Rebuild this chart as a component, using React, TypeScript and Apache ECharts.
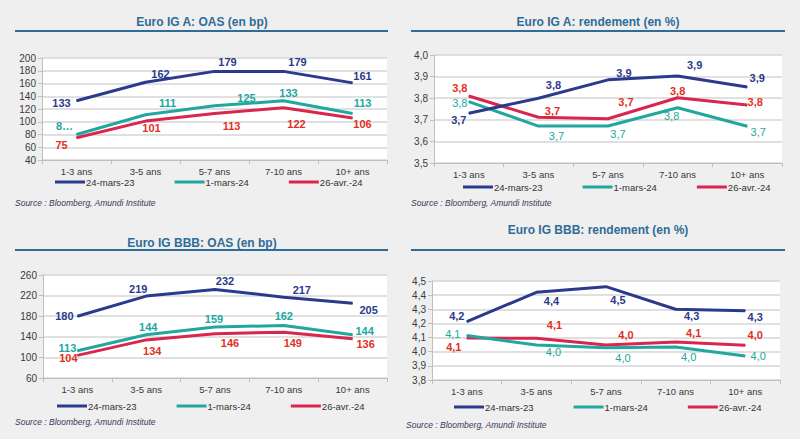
import React, { useEffect, useRef } from "react";
import * as echarts from "echarts";

// ---------- DATA ----------
const categories = ["1-3 ans", "3-5 ans", "5-7 ans", "7-10 ans", "10+ ans"];
const seriesNames = ["24-mars-23", "1-mars-24", "26-avr.-24"];

// Euro IG A : OAS (bp)
const aOasMar23 = [133, 162, 179, 179, 161];
const aOasMar24 = [80, 111, 125, 133, 113];
const aOasApr24 = [75, 101, 113, 122, 106];
const aOasMar24Labels = ["8…", null, null, null, null];

// Euro IG A : rendement (%)
const aYldMar23 = [3.73, 3.8, 3.885, 3.903, 3.852];
const aYldMar24 = [3.784, 3.671, 3.671, 3.756, 3.67];
const aYldApr24 = [3.81, 3.712, 3.705, 3.802, 3.768];

// Euro IG BBB : OAS (bp)
const bOasMar23 = [180, 219, 232, 217, 205];
const bOasMar24 = [113, 144, 159, 162, 144];
const bOasApr24 = [104, 134, 146, 149, 136];

// Euro IG BBB : rendement (%)
const bYldMar23 = [4.212, 4.42, 4.46, 4.3, 4.29];
const bYldMar24 = [4.115, 4.047, 4.028, 4.033, 3.97];
const bYldApr24 = [4.097, 4.095, 4.048, 4.068, 4.045];

const titles = [
  "Euro IG A: OAS (en bp)",
  "Euro IG A: rendement (en %)",
  "Euro IG BBB: OAS (en bp)",
  "Euro IG BBB: rendement (en %)",
];
const sourceText = "Source : Bloomberg, Amundi Institute";

// ---------- LAYOUT / STYLE ----------
const COLORS = ["#2B3A8C", "#22A79E", "#D8264F"];
const LABEL_COLORS = ["#2B3A8C", "#22A79E", "#E2301F"];
const TITLE_COLOR = "#2F6C97";

const grids = [
  { left: 42, top: 58, width: 345, height: 102 },
  { left: 434, top: 55, width: 348, height: 108 },
  { left: 43, top: 275, width: 344, height: 103 },
  { left: 432, top: 281, width: 348, height: 99 },
];
const yAxesCfg = [
  { min: 40, max: 200, interval: 20, dec: 0 },
  { min: 3.5, max: 4.0, interval: 0.1, dec: 1 },
  { min: 60, max: 260, interval: 40, dec: 0 },
  { min: 3.8, max: 4.5, interval: 0.1, dec: 1 },
];
const legendPos = [
  { left: 55, top: 177 },
  { left: 463, top: 182 },
  { left: 57, top: 401 },
  { left: 454, top: 402 },
];
const titlePos = [
  { x: 202, y: 22 },
  { x: 598, y: 22 },
  { x: 202, y: 243 },
  { x: 598, y: 230 },
];
const underlines = [
  { x1: 15, x2: 388, y: 31 },
  { x1: 411, x2: 785, y: 31 },
  { x1: 15, x2: 388, y: 250 },
  { x1: 411, x2: 785, y: 250 },
];
const sourcePos = [
  { x: 15, y: 203 },
  { x: 411, y: 203 },
  { x: 15, y: 422 },
  { x: 406, y: 425 },
];

// label offsets (dx, dy) per panel / series / point
const labelOffsets = [
  [
    [[-15, 2], [15, -8], [13, -9], [14, -9], [10, -7]],
    [[-12, -9], [22, -12], [32, -8], [5, -8], [10, -10]],
    [[-15, 7], [6, 7], [17, 13], [13, 16], [10, 6]],
  ],
  [
    [[-10, 7], [15, -13], [16, -7], [17, -11], [10, -9]],
    [[-9, 1], [18, 10], [10, 8], [-6, 8], [11, 6]],
    [[-9, -8], [14, -6], [18, -17], [0, -7], [8, -3]],
  ],
  [
    [[-13, 0], [-8, -7], [10, -8], [18, -7], [16, 7]],
    [[-10, -3], [2, -8], [-1, -8], [0, -9], [12, -4]],
    [[-9, 3], [6, 11], [15, 9], [9, 11], [13, 5]],
  ],
  [
    [[-10, -6], [15, 9], [12, 13], [16, 7], [10, 6]],
    [[-14, -1], [17, 7], [17, 10], [13, 10], [13, 0]],
    [[-13, 9], [18, -13], [20, -10], [18, -9], [10, -10]],
  ],
];

const panels = [
  { values: [aOasMar23, aOasMar24, aOasApr24], custom: [null, aOasMar24Labels, null] },
  { values: [aYldMar23, aYldMar24, aYldApr24], custom: [null, null, null] },
  { values: [bOasMar23, bOasMar24, bOasApr24], custom: [null, null, null] },
  { values: [bYldMar23, bYldMar24, bYldApr24], custom: [null, null, null] },
];

const FONT = "Liberation Sans, Arial, sans-serif";

function fmt(v: number, dec: number) {
  return v.toFixed(dec).replace(".", ",");
}

export default function App() {
  const ref = useRef<HTMLDivElement>(null);

  useEffect(() => {
    if (!ref.current) return;
    const chart = echarts.init(ref.current, undefined, { renderer: "svg" });

    const xAxis: any[] = [];
    const yAxis: any[] = [];
    const series: any[] = [];
    const legend: any[] = [];
    const graphic: any[] = [];

    grids.forEach((g, p) => {
      xAxis.push({
        type: "category",
        gridIndex: p,
        data: categories,
        boundaryGap: true,
        axisLine: { lineStyle: { color: "#bfbfbf", width: 1 } },
        axisTick: { show: true, length: 4, lineStyle: { color: "#bfbfbf" } },
        axisLabel: { color: "#3a3a3a", fontSize: 9.5, fontFamily: FONT, margin: 6 },
      });
      const yc = yAxesCfg[p];
      yAxis.push({
        type: "value",
        gridIndex: p,
        min: yc.min,
        max: yc.max,
        interval: yc.interval,
        axisLine: { show: true, lineStyle: { color: "#bfbfbf" } },
        axisTick: { show: true, length: 4, lineStyle: { color: "#bfbfbf" } },
        axisLabel: {
          color: "#3a3a3a",
          fontSize: 10,
          fontFamily: FONT,
          margin: 6,
          formatter: (v: number) => fmt(v, yc.dec),
        },
        splitLine: { lineStyle: { color: "#d6d6d6", width: 1.5 } },
      });
      const dec = yc.dec;
      const panel = panels[p];
      panel.values.forEach((vals, s) => {
        const custom = panel.custom[s];
        const boldLabel = !(s === 1 && dec === 1);
        series.push({
          type: "line",
          name: seriesNames[s],
          xAxisIndex: p,
          yAxisIndex: p,
          symbol: "circle",
          symbolSize: 1,
          lineStyle: { color: COLORS[s], width: 3 },
          itemStyle: { color: COLORS[s] },
          label: {
            show: true,
            position: "inside",
            color: LABEL_COLORS[s],
            fontSize: 11,
            fontWeight: boldLabel ? "bold" : "normal",
            fontFamily: FONT,
          },
          data: vals.map((v, i) => {
            const off = labelOffsets[p][s][i];
            const txt = custom && custom[i] ? custom[i] : fmt(v, dec);
            return {
              value: v,
              label: { offset: off, formatter: () => txt },
            };
          }),
          z: 5 - s,
        });
      });
      legend.push({
        data: seriesNames,
        left: legendPos[p].left,
        top: legendPos[p].top,
        padding: 0,
        orient: "horizontal",
        icon: "rect",
        itemWidth: 30,
        itemHeight: 3,
        itemGap: 40,
        textStyle: { color: "#333", fontSize: 9.5, fontFamily: FONT, padding: [0, 0, 0, -4] },
        selectedMode: false,
      });
      graphic.push({
        type: "text",
        x: titlePos[p].x,
        y: titlePos[p].y,
        style: {
          text: titles[p],
          fill: TITLE_COLOR,
          font: `bold 12px ${FONT}`,
          textAlign: "center",
          textVerticalAlign: "middle",
        },
      });
      graphic.push({
        type: "line",
        shape: { x1: underlines[p].x1, y1: underlines[p].y, x2: underlines[p].x2, y2: underlines[p].y },
        style: { stroke: TITLE_COLOR, lineWidth: 2 },
      });
      graphic.push({
        type: "text",
        x: sourcePos[p].x,
        y: sourcePos[p].y,
        style: {
          text: sourceText,
          fill: "#3a3a5c",
          font: `italic 8.5px ${FONT}`,
          textAlign: "left",
          textVerticalAlign: "middle",
        },
      });
    });

    chart.setOption({
      animation: false,
      backgroundColor: "#efefef",
      grid: grids.map((g) => ({
        ...g,
        show: true,
        backgroundColor: "#ffffff",
        borderWidth: 0,
        containLabel: false,
      })),
      xAxis,
      yAxis,
      series,
      legend,
      graphic,
    });

    return () => chart.dispose();
  }, []);

  return <div ref={ref} style={{ width: 800, height: 439, position: "absolute", left: 0, top: 0 }} />;
}
